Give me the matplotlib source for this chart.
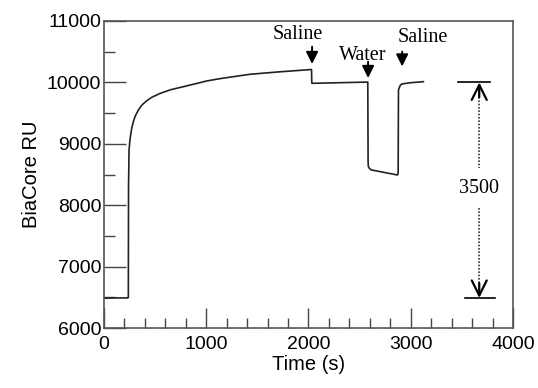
import matplotlib.pyplot as plt
from matplotlib.ticker import MultipleLocator

# sensorgram
time_s = [0, 100, 230, 238, 240, 245, 254, 262, 272, 287, 305, 336, 370, 418, 470, 548,
          650, 776, 900, 1004, 1130, 1265, 1428, 1700, 2030, 2032, 2040, 2300, 2580,
          2583, 2586, 2600, 2619, 2870, 2877, 2880, 2895, 2912, 3000, 3124]
ru = [6485, 6490, 6490, 6495, 8300, 8900, 9062, 9160, 9260, 9360, 9450, 9550, 9630,
      9702, 9760, 9820, 9880, 9930, 9980, 10023, 10060, 10093, 10132, 10170, 10210,
      9990, 9985, 9995, 10005, 8700, 8627, 8590, 8573, 8492, 8520, 9876, 9945, 9974,
      9995, 10012]

injections = ['Saline', 'Water', 'Saline']
inject_t = [2035, 2583, 2916]
baseline = 6490
plateau = 10000
delta = 3500

plt.rcParams['font.family'] = ['Liberation Sans', 'DejaVu Sans']
fig = plt.figure(figsize=(5.38, 3.88), dpi=100)
ax = fig.add_axes([0.1933, 0.1546, 0.7602, 0.7913])

ax.plot(time_s, ru, color='#222222', lw=1.2)

ax.set_xlim(0, 4000)
ax.set_ylim(6000, 11000)
ax.xaxis.set_major_locator(MultipleLocator(1000))
ax.xaxis.set_minor_locator(MultipleLocator(200))
ax.yaxis.set_major_locator(MultipleLocator(1000))
ax.yaxis.set_minor_locator(MultipleLocator(500))
ax.tick_params(axis='x', which='major', direction='in', length=14.5, width=1, colors='#444444', labelcolor='black', labelsize=14, pad=6)
ax.tick_params(axis='x', which='minor', direction='in', length=7.2, width=1, colors='#444444')
ax.tick_params(axis='y', which='major', direction='in', length=15.5, width=1, colors='#444444', labelcolor='black', labelsize=14, pad=2)
ax.tick_params(axis='y', which='minor', direction='in', length=8.2, width=1, colors='#444444')
for s in ax.spines.values():
    s.set_color('#555555')
    s.set_linewidth(1.2)

ax.set_xlabel('Time (s)', fontsize=14.5, labelpad=1)
ax.set_ylabel('BiaCore RU', fontsize=14.5, labelpad=4)

serif = ['Liberation Serif', 'DejaVu Serif']
# injection markers: text x, text y, arrow start, arrow tip
label_pos = [(1900, 10775, 10581, 10300), (2530, 10440, 10337, 10072), (3121, 10730, 10500, 10260)]
for name, t, (tx, ty, a0, a1) in zip(injections, inject_t, label_pos):
    ax.text(tx, ty, name, family=serif, fontsize=14.5, ha='center', va='center')
    ax.annotate('', xy=(t, a1), xytext=(t, a0),
                arrowprops=dict(arrowstyle='-|>', color='black', lw=1.4, mutation_scale=18,
                                shrinkA=0, shrinkB=0))

# 3500 RU double arrow
xa = 3670
ax.plot([3464, 3777], [plateau, plateau], color='black', lw=1.2)
ax.plot([3532, 3826], [baseline, baseline], color='black', lw=1.2)
ax.plot([xa, xa], [plateau - 80, 8600], color='#333333', lw=1.2, ls=(0, (1, 1)))
ax.plot([xa, xa], [7950, baseline + 80], color='#333333', lw=1.2, ls=(0, (1, 1)))
ax.annotate('', xy=(xa, plateau), xytext=(xa, plateau - 240),
            arrowprops=dict(arrowstyle='->', color='black', lw=1.6, mutation_scale=27, shrinkA=0, shrinkB=0))
ax.annotate('', xy=(xa, baseline), xytext=(xa, baseline + 240),
            arrowprops=dict(arrowstyle='->', color='black', lw=1.6, mutation_scale=27, shrinkA=0, shrinkB=0))
ax.text(xa, 8280, str(delta), family=serif, fontsize=14.5, ha='center', va='center')

fig.savefig('out.png', dpi=100)
